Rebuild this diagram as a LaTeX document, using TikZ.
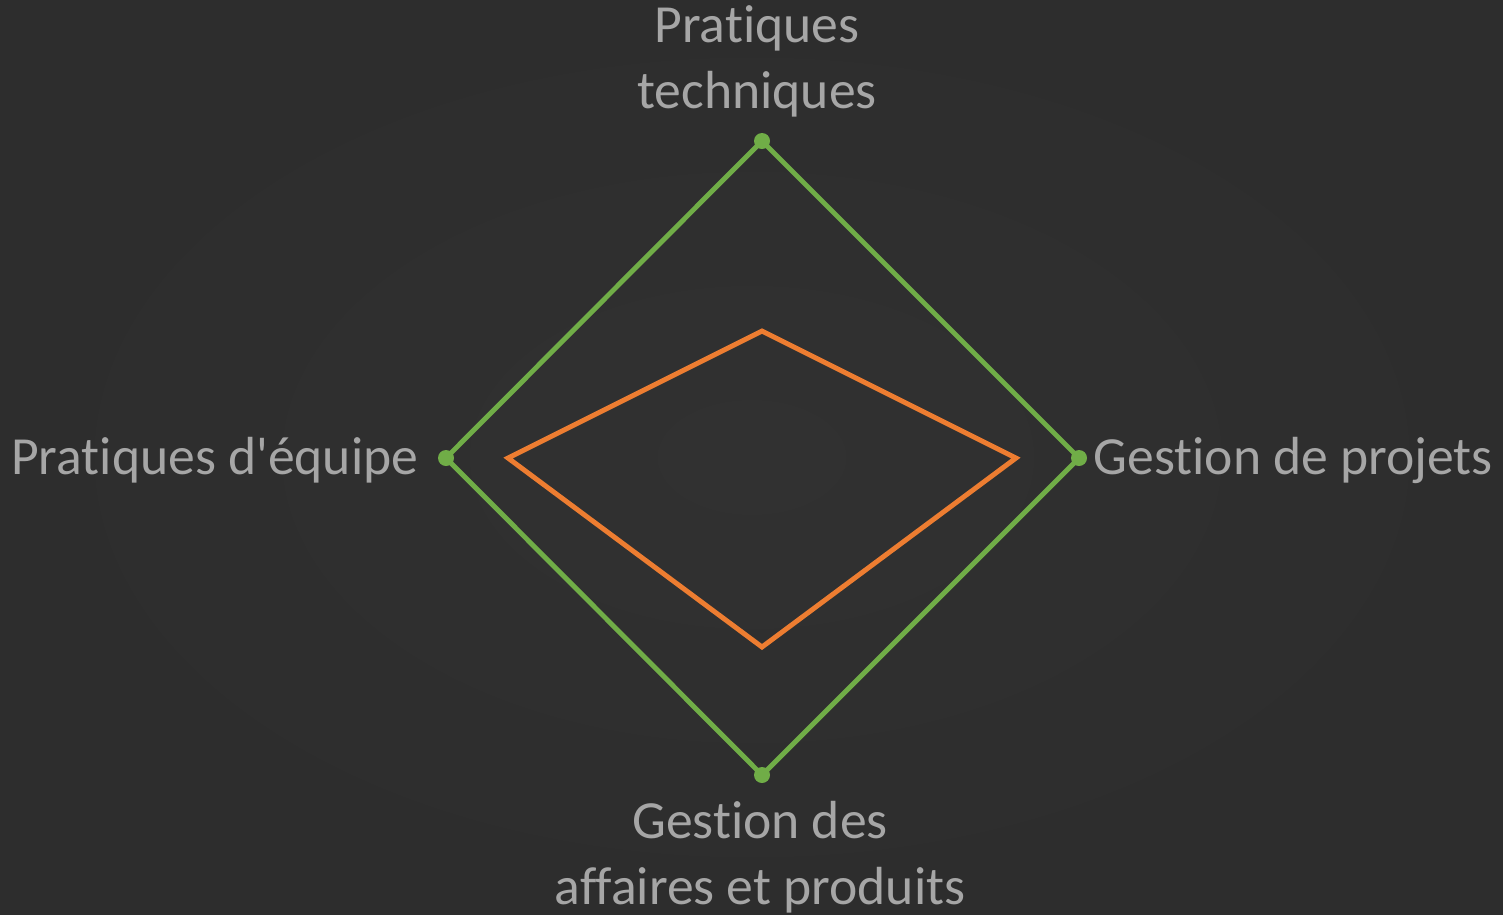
\documentclass[tikz,border=0pt]{standalone}
\usepackage{fontspec}
\setmainfont{Carlito}[Ligatures={TeXOff,CommonOff}]
\definecolor{bg}{HTML}{2D2D2D}
\definecolor{bgc}{HTML}{313131}
\definecolor{gline}{HTML}{70AD47}
\definecolor{oline}{HTML}{ED7D31}
\definecolor{lbl}{HTML}{A6A6A6}
\tikzset{
  lab/.style={text=lbl, font=\fontsize{15.25pt}{18.7pt}\selectfont, inner sep=0pt, align=center},
  gpoly/.style={draw=gline, line width=1.4pt, line join=miter},
  opoly/.style={draw=oline, line width=1.4pt, line join=miter},
  gdot/.style={circle, fill=gline, minimum size=0.16cm, inner sep=0pt}
}
\begin{document}
\begin{tikzpicture}[x=0.01cm, y=-0.01cm]
\useasboundingbox (0,0) rectangle (1503,914);
\shade[inner color=bgc, outer color=bg] (0,0) rectangle (1503,914);
% green vertices
\coordinate (gt) at (762,141);
\coordinate (gr) at (1079,458);
\coordinate (gb) at (762,775);
\coordinate (gl) at (446,458);
% orange vertices
\coordinate (ot) at (762,331);
\coordinate (or) at (1016,458);
\coordinate (ob) at (762,647);
\coordinate (ol) at (508,458);
\draw[gpoly] (gt) -- (gr) -- (gb) -- (gl) -- cycle;
\draw[opoly] (ot) -- (or) -- (ob) -- (ol) -- cycle;
\node[gdot] (dt) at (gt) {};
\node[gdot] (dr) at (gr) {};
\node[gdot] (db) at (gb) {};
\node[gdot] (dl) at (gl) {};
\node[lab] (lt) at (757,61) {Pratiques\\techniques};
\node[lab] (lb) at (760,857) {Gestion des\\affaires et produits};
\node[lab, anchor=east] (ll) at (419,460) {Pratiques d'équipe};
\node[lab, anchor=west] (lr) at (1093,460) {Gestion de projets};
\end{tikzpicture}
\end{document}
